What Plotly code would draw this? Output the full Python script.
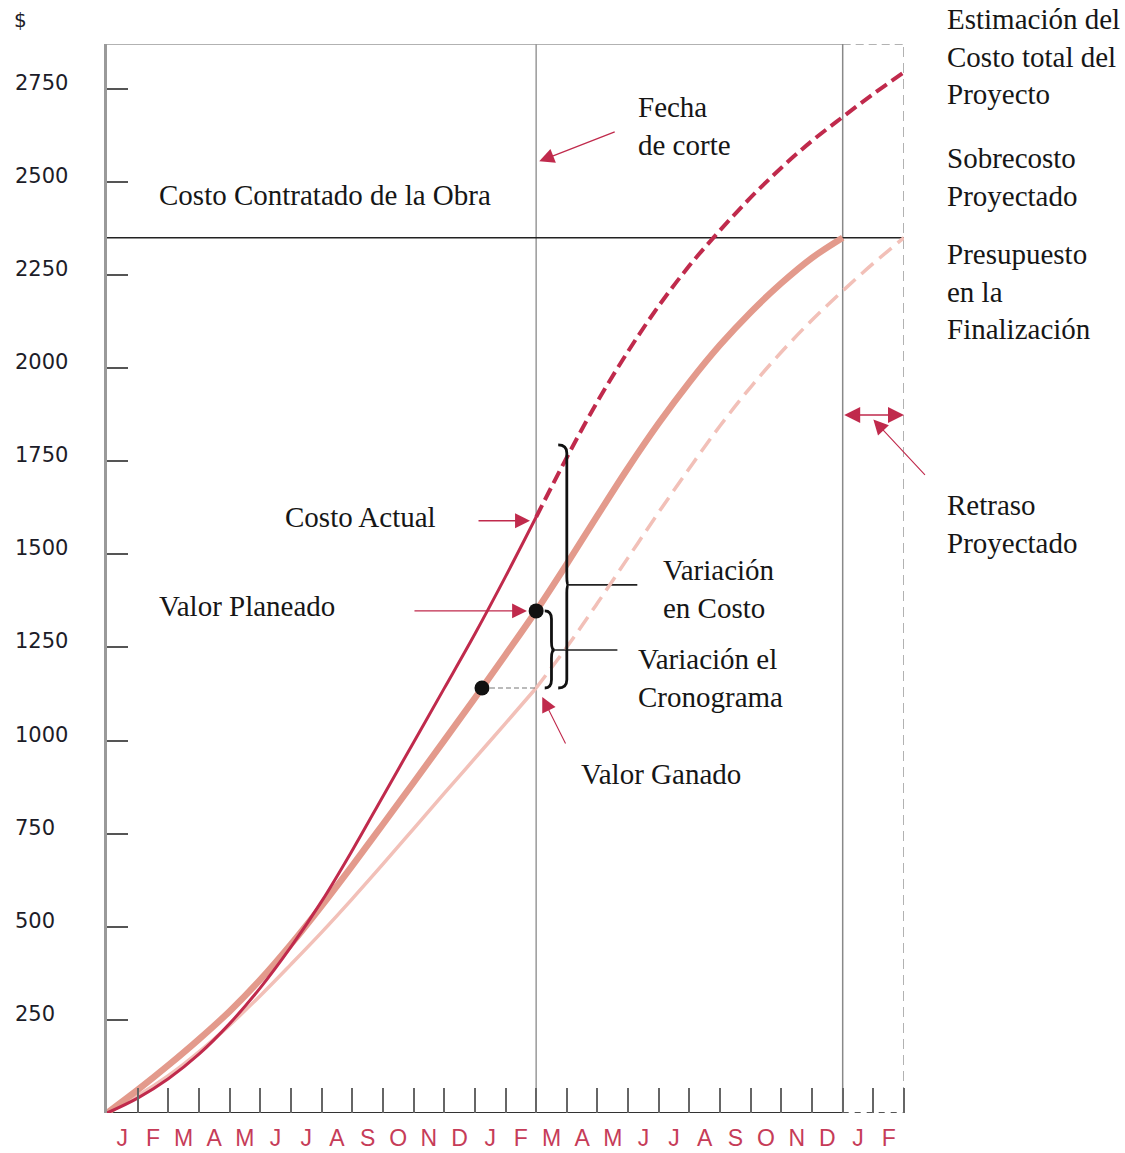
import numpy as np
import plotly.graph_objects as go

# ---- data -------------------------------------------------------------
months_plan = list(range(0, 25))          # planned schedule: months 0..24
months_fcst = list(range(0, 27))          # forecast schedule: months 0..26
month_letters = ["J", "F", "M", "A", "M", "J", "J", "A", "S", "O", "N", "D",
                 "J", "F", "M", "A", "M", "J", "J", "A", "S", "O", "N", "D",
                 "J", "F"]

# Valor Planeado (planned value), months 0..24
planned_value = [0, 62, 128, 198, 273, 358, 453, 556, 664, 775, 887, 1000, 1114,
                 1230, 1348, 1474, 1604, 1732, 1852, 1962, 2062, 2150, 2228,
                 2296, 2350]
# Valor Ganado (earned value), months 0..26
earned_value = [0, 46, 100, 164, 236, 315, 399, 485, 575, 668, 763, 858, 952,
                1046, 1141, 1251, 1369, 1491, 1613, 1731, 1845, 1949, 2043,
                2129, 2207, 2281, 2350]
# Costo Actual (actual cost), months 0..26
actual_cost = [0, 40, 92, 158, 240, 336, 446, 568, 705, 850, 995, 1140, 1286,
               1440, 1600, 1760, 1910, 2045, 2167, 2275, 2370, 2458, 2538,
               2610, 2674, 2736, 2794]

cutoff_month = 14
plan_end_month = 24
fcst_end_month = 26
contract_cost = 2350
y_ticks = [250, 500, 750, 1000, 1250, 1500, 1750, 2000, 2250, 2500, 2750]

# ---- styling ----------------------------------------------------------
W, H = 1125, 1153
L, R, T, B = 107, 221, 44, 40
Y_MAX = 2870
RED = "#c02a4c"
SALMON = "#e39a8c"
PINK = "#f2c0b8"
SERIF = "Liberation Serif"
TXT = "#161616"

def px_x(px):
    return (px - L) / (W - L - R)

def px_y(py):
    return (H - B - py) / (H - T - B)

fig = go.Figure()

c = cutoff_month
# earned value: solid to cutoff, dashed forecast after
fig.add_trace(go.Scatter(x=months_fcst[:c + 1], y=earned_value[:c + 1], mode="lines",
                         line=dict(color=PINK, width=3.5, shape="spline"),
                         hoverinfo="skip"))
fig.add_trace(go.Scatter(x=months_fcst[c:], y=earned_value[c:], mode="lines",
                         line=dict(color=PINK, width=3.5, shape="spline", dash="16px,8px"),
                         hoverinfo="skip"))
# planned value
fig.add_trace(go.Scatter(x=months_plan, y=planned_value, mode="lines",
                         line=dict(color=SALMON, width=6.5, shape="spline"),
                         hoverinfo="skip"))
# actual cost: solid to cutoff, dashed estimate after
fig.add_trace(go.Scatter(x=months_fcst[:c + 1], y=actual_cost[:c + 1], mode="lines",
                         line=dict(color=RED, width=3, shape="spline"),
                         hoverinfo="skip"))
fig.add_trace(go.Scatter(x=months_fcst[c:], y=actual_cost[c:], mode="lines",
                         line=dict(color=RED, width=4, shape="spline", dash="13px,6px"),
                         hoverinfo="skip"))

# schedule-variance point: where the plan reached today's earned value
ev_cut = earned_value[c]
pv_cut = planned_value[c]
sv_month = float(np.interp(ev_cut, planned_value, months_plan))
fig.add_trace(go.Scatter(x=[sv_month, c], y=[ev_cut, ev_cut], mode="lines",
                         line=dict(color="#777", width=1.2, dash="5px,3px"),
                         hoverinfo="skip"))
fig.add_trace(go.Scatter(x=[sv_month, c], y=[ev_cut, pv_cut], mode="markers",
                         marker=dict(color="#111", size=15), hoverinfo="skip"))

shapes = []
def line(x0, y0, x1, y1, color, width, dash="solid"):
    shapes.append(dict(type="line", xref="x", yref="y", x0=x0, y0=y0, x1=x1, y1=y1,
                       line=dict(color=color, width=width, dash=dash), layer="below"))

# frame pieces
line(0, 0, plan_end_month, 0, "#333", 2)
line(plan_end_month, 0, fcst_end_month, 0, "#555", 2, "6px,6px")
line(0, Y_MAX, plan_end_month, Y_MAX, "#999", 1.5)
line(plan_end_month, Y_MAX, fcst_end_month, Y_MAX, "#999", 1.5, "8px,5px")
line(cutoff_month, 0, cutoff_month, Y_MAX, "#999", 1.5)
line(plan_end_month, 0, plan_end_month, Y_MAX, "#888", 1.5)
line(fcst_end_month, 0, fcst_end_month, Y_MAX, "#999", 1.5, "10px,6px")
line(0, contract_cost, fcst_end_month, contract_cost, "#222", 1.6)

# braces
def brace(x, y_bot, y_top, y_mid, hook, tip, dy, width=2.8, mid_line_to=None):
    p = (f"M {x - hook},{y_top} Q {x},{y_top} {x},{y_top - dy} "
         f"L {x},{y_mid + dy} Q {x},{y_mid} {x + tip},{y_mid} "
         f"Q {x},{y_mid} {x},{y_mid - dy} L {x},{y_bot + dy} "
         f"Q {x},{y_bot} {x - hook},{y_bot}")
    shapes.append(dict(type="path", xref="x", yref="y", path=p,
                       line=dict(color="#111", width=width)))
    if mid_line_to is not None:
        line(x, y_mid, mid_line_to, y_mid, "#222", 1.6)

brace(15.0, ev_cut, 1794, 1418, 0.28, 0.05, 22, mid_line_to=17.3)
brace(14.5, ev_cut, pv_cut, 1243, 0.22, 0.1, 22, mid_line_to=16.65)
brace(26.3, contract_cost, actual_cost[-1], 2572, 0.25, 0.28, 26)

annotations = []
def text(s, px, py, size=29, color=TXT, family=SERIF, anchor="left"):
    annotations.append(dict(text=s, xref="paper", yref="paper", x=px_x(px), y=px_y(py),
                            xanchor=anchor, yanchor="middle", align="left",
                            showarrow=False,
                            font=dict(family=family, size=size, color=color)))

def arrow(x, y, ax, ay, width=1.3, size=2.3):
    annotations.append(dict(text="", xref="x", yref="y", x=x, y=y, ax=ax, ay=ay,
                            axref="pixel", ayref="pixel", showarrow=True,
                            arrowhead=2, arrowsize=size, arrowwidth=width,
                            arrowcolor=RED))

# y tick labels and currency sign
for v in y_ticks:
    annotations.append(dict(text=str(v), xref="paper", yref="y", x=px_x(13), y=v,
                            xanchor="left", yanchor="middle", showarrow=False,
                            yshift=6,
                            font=dict(family="DejaVu Sans", size=21, color="#1c1c28")))
text("$", 12, 20, size=20, family="DejaVu Sans", color="#1c1c28")

text("Costo Contratado de la Obra", 157, 195)
text("Fecha<br>de corte", 636, 126)
text("Estimación del<br>Costo total del<br>Proyecto", 945, 57)
text("Sobrecosto<br>Proyectado", 945, 177)
text("Presupuesto<br>en la<br>Finalización", 945, 291)
text("Retraso<br>Proyectado", 945, 524)
text("Costo Actual", 283, 517)
text("Valor Planeado", 157, 606)
text("Variación<br>en Costo", 661, 589)
text("Variación el<br>Cronograma", 636, 678)
text("Valor Ganado", 579, 774)

# pointers
arrow(14.1, 2555, 77, -30)
arrow(13.8, 1590, -53, 0)
arrow(13.7, pv_cut, -114, 0, width=1.1, size=2.7)
arrow(14.2, 1117, 24, 48, width=1.1, size=2.7)
arrow(25.0, 1862, 53, 57, width=1.1, size=2.7)
annotations.append(dict(text="", xref="x", yref="y", x=fcst_end_month, y=1874,
                        ax=plan_end_month, ay=1874, axref="x", ayref="y",
                        showarrow=True, arrowhead=2, startarrowhead=2,
                        arrowsize=2.0, startarrowsize=2.0, arrowwidth=1.6,
                        arrowcolor=RED, arrowside="end+start"))

fig.update_layout(
    width=W, height=H,
    margin=dict(l=L, r=R, t=T, b=B, pad=0, autoexpand=False),
    paper_bgcolor="white", plot_bgcolor="white",
    showlegend=False,
    shapes=shapes, annotations=annotations,
    xaxis=dict(range=[0, fcst_end_month], showgrid=False, zeroline=False,
               showline=False, fixedrange=True, automargin=False,
               tickmode="array",
               tickvals=[i + 0.5 for i in range(len(month_letters))],
               ticktext=month_letters, ticks="",
               ticklabelstandoff=9,
               tickfont=dict(family="Liberation Sans", size=23, color="#c63c58"),
               minor=dict(tickmode="array", tickvals=list(range(1, fcst_end_month + 1)),
                          ticks="inside", ticklen=25, tickwidth=1.5,
                          tickcolor="#666", showgrid=False)),
    yaxis=dict(range=[0, Y_MAX], showgrid=False, zeroline=False,
               showline=True, linecolor="#9a9a9a", linewidth=3, automargin=False,
               tickmode="array", tickvals=y_ticks, ticks="inside",
               ticklen=21, tickwidth=1.8, tickcolor="#555",
               showticklabels=False, fixedrange=True),
)

fig.write_html("out.html")
